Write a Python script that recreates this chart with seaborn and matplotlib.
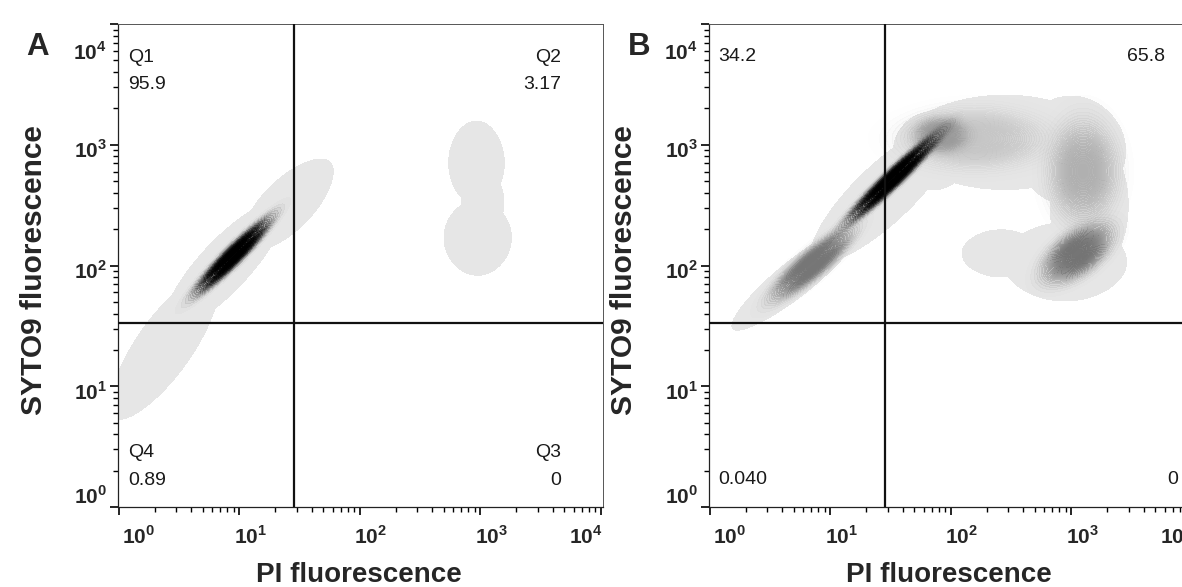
import numpy as np
import matplotlib
matplotlib.use("Agg")
import matplotlib.pyplot as plt
import seaborn as sns
from matplotlib.colors import LinearSegmentedColormap, ListedColormap, to_rgb
from matplotlib.ticker import LogLocator, FuncFormatter, NullFormatter
from matplotlib.transforms import ScaledTranslation

# ---------------- data: anchor points in log10 fluorescence ----
# Panel A - light population outline
A_low_pi    = [0.474, 0.286, 0.338, 0.422]
A_low_syto  = [1.463, 1.197, 1.360, 1.300]
A_mid_pi    = [0.99, 0.77, 0.847, 0.913]
A_mid_syto  = [2.117, 1.883, 2.033, 1.967]
A_up_pi     = [1.48, 1.32, 1.367, 1.433]
A_up_syto   = [2.58, 2.42, 2.533, 2.467]
A_dtop_pi   = [2.97, 2.97, 2.918, 3.022]
A_dtop_syto = [2.928, 2.772, 2.85, 2.85]
A_dneck_pi  = [3.02, 3.02, 2.98, 3.06]
A_dneck_syto= [2.583, 2.457, 2.52, 2.52]
A_dbot_pi   = [2.98, 2.98, 2.917, 3.043]
A_dbot_syto = [2.30, 2.16, 2.23, 2.23]
# Panel A - dense core
A_core_pi   = [1.063, 0.837, 0.932, 0.968]
A_core_syto = [2.193, 1.967, 2.098, 2.062]

# Panel B - light population outline (stem, then the horseshoe)
B_tail_pi   = [0.839, 0.601, 0.70, 0.74]
B_tail_syto = [1.995, 1.805, 1.926, 1.874]
B_stem_pi   = [1.583, 1.317, 1.413, 1.487]
B_stem_syto = [2.726, 2.474, 2.639, 2.561]
B_bend_pi   = [1.923, 1.777, 1.85, 1.85]
B_bend_syto = [2.95, 2.95, 3.023, 2.877]
B_arc_pi    = [2.64, 2.26, 2.45, 2.45]
B_arc_syto  = [3.02, 3.02, 3.108, 2.932]
B_corner_pi   = [3.102, 2.898, 3.0, 3.0]
B_corner_syto = [2.95, 2.95, 3.052, 2.848]
B_side_pi   = [3.15, 3.15, 3.077, 3.223]
B_side_syto = [2.634, 2.366, 2.50, 2.50]
B_lobe_pi   = [3.065, 2.835, 2.95, 2.95]
B_lobe_syto = [2.03, 2.03, 2.103, 1.957]
B_arm_pi    = [2.493, 2.347, 2.42, 2.42]
B_arm_syto  = [2.10, 2.10, 2.144, 2.056]
# Panel B - denser regions
B_top_pi    = [2.41, 1.99, 2.20, 2.20]
B_top_syto  = [3.05, 3.05, 3.135, 2.965]
B_right_pi  = [3.10, 3.10, 3.00, 3.20]
B_right_syto= [2.93, 2.63, 2.78, 2.78]
B_dead_pi   = [3.146, 2.954, 3.014, 3.086]
B_dead_syto = [2.172, 2.028, 2.148, 2.052]
B_neck_pi   = [2.00, 1.84, 1.92, 1.92]
B_neck_syto = [3.08, 3.08, 3.13, 3.03]
B_live_pi   = [0.969, 0.731, 0.825, 0.875]
B_live_syto = [2.112, 1.908, 2.039, 1.981]
B_peak_pi   = [1.657, 1.383, 1.503, 1.537]
B_peak_syto = [2.851, 2.589, 2.738, 2.702]

# gates and quadrant statistics
GATE_PI = 28.4
GATE_SYTO = 33.5
A_quads = ["Q1", "Q2", "Q3", "Q4"]
A_freq = ["95.9", "3.17", "0", "0.89"]
B_freq = ["34.2", "65.8", "0", "0.040"]
panel_letters = ["A", "B"]

# ---------------- style ----------------
sns.set_style("ticks")
plt.rcParams["font.family"] = ["Liberation Sans", "DejaVu Sans"]
plt.rcParams["mathtext.fontset"] = "custom"
plt.rcParams["mathtext.rm"] = "Liberation Sans"
plt.rcParams["mathtext.bf"] = "Liberation Sans:bold"

PLATEAU = "#e6e6e6"
BW = 2.2

fig = plt.figure(figsize=(11.82, 5.87), dpi=100)
W, H = 1182, 587
axA = fig.add_axes([118 / W, 1 - 507 / H, 485 / W, 483 / H])
axB = fig.add_axes([709 / W, 1 - 507 / H, 485 / W, 483 / H])


def kde(ax, pi, syto, cmap, levels, thresh=0.05):
    sns.kdeplot(x=np.power(10.0, np.asarray(pi, float)),
                y=np.power(10.0, np.asarray(syto, float)),
                fill=True, levels=levels, thresh=thresh, cmap=cmap, bw_adjust=BW,
                log_scale=True, cut=4, gridsize=220, antialiased=False, ax=ax)


def outline(ax, pi, syto):
    kde(ax, pi, syto, ListedColormap([PLATEAU]), [0.02, 1.0])


def shade(ax, pi, syto, end, thresh=0.03):
    r, g, b = to_rgb(end)
    cmap = LinearSegmentedColormap.from_list("c", [(r, g, b, 0.0), (r, g, b, 1.0)])
    kde(ax, pi, syto, cmap, 32, thresh)


# Panel A
for pi, sy in [(A_low_pi, A_low_syto), (A_mid_pi, A_mid_syto), (A_up_pi, A_up_syto),
               (A_dtop_pi, A_dtop_syto), (A_dneck_pi, A_dneck_syto),
               (A_dbot_pi, A_dbot_syto)]:
    outline(axA, pi, sy)
shade(axA, A_core_pi, A_core_syto, "#000000")

# Panel B
for pi, sy in [(B_tail_pi, B_tail_syto), (B_stem_pi, B_stem_syto), (B_bend_pi, B_bend_syto),
               (B_arc_pi, B_arc_syto), (B_corner_pi, B_corner_syto),
               (B_side_pi, B_side_syto), (B_lobe_pi, B_lobe_syto), (B_arm_pi, B_arm_syto)]:
    outline(axB, pi, sy)
shade(axB, B_top_pi, B_top_syto, "#c6c6c6")
shade(axB, B_right_pi, B_right_syto, "#b0b0b0")
shade(axB, B_dead_pi, B_dead_syto, "#747474")
shade(axB, B_neck_pi, B_neck_syto, "#9a9a9a")
shade(axB, B_live_pi, B_live_syto, "#767676")
shade(axB, B_peak_pi, B_peak_syto, "#000000")


def expfmt(v, pos):
    e = int(round(np.log10(v)))
    return r"$\mathbf{10}^{\mathbf{%d}}$" % e


for ax in (axA, axB):
    ax.set_xscale("log")
    ax.set_yscale("log")
    ax.set_xlim(10 ** -0.005, 10 ** 4.02)
    ax.set_ylim(1, 10 ** 4.0)
    ax.axvline(GATE_PI, color="#111111", lw=1.6, zorder=5)
    ax.axhline(GATE_SYTO, color="#111111", lw=1.6, zorder=5)
    for axis in (ax.xaxis, ax.yaxis):
        axis.set_major_locator(LogLocator(base=10, numticks=20))
        axis.set_minor_locator(LogLocator(base=10, subs=np.arange(2, 10), numticks=20))
        axis.set_major_formatter(FuncFormatter(expfmt))
        axis.set_minor_formatter(NullFormatter())
    ax.tick_params(which="major", direction="out", length=6, width=1.2, color="black",
                   labelsize=15, top=False, right=False)
    ax.tick_params(axis="x", which="major", pad=7)
    ax.tick_params(axis="y", which="major", pad=2)
    ax.tick_params(which="minor", direction="out", length=3.5, width=1.0, color="black",
                   top=False, right=False)
    for name, s in ax.spines.items():
        s.set_visible(True)
        s.set_linewidth(0.9 if name in ("left", "bottom") else 0.7)
        s.set_color("#222222" if name in ("left", "bottom") else "#555555")
    ax.set_xlabel("PI fluorescence", fontsize=20, fontweight="bold")
    ax.set_ylabel("SYTO9 fluorescence", fontsize=21.5, fontweight="bold")
    ax.xaxis.label.set_va("baseline")
    ax.yaxis.label.set_va("baseline")

axA.xaxis.set_label_coords(0.497, -0.155)
axB.xaxis.set_label_coords(0.495, -0.155)
axA.yaxis.set_label_coords(-0.157, 0.49)
axB.yaxis.set_label_coords(-0.159, 0.49)

# quadrant annotations
for ax, rows in [
    (axA, [(0.021, 0.921, A_quads[0], "left"), (0.021, 0.865, A_freq[0], "left"),
           (0.913, 0.921, A_quads[1], "right"), (0.913, 0.865, A_freq[1], "right"),
           (0.913, 0.1035, A_quads[2], "right"), (0.913, 0.0455, A_freq[2], "right"),
           (0.021, 0.1035, A_quads[3], "left"), (0.021, 0.0455, A_freq[3], "left")]),
    (axB, [(0.0186, 0.923, B_freq[0], "left"), (0.940, 0.923, B_freq[1], "right"),
           (0.967, 0.0476, B_freq[2], "right"), (0.0186, 0.0476, B_freq[3], "left")]),
]:
    for x, y, s, ha in rows:
        ax.text(x, y, s, ha=ha, va="baseline", fontsize=14, color="#1a1a1a",
                transform=ax.transAxes, zorder=6)

fig.text(26 / W, 1 - 55 / H, panel_letters[0], fontsize=22.5, fontweight="bold", va="baseline")
fig.text(628 / W, 1 - 55 / H, panel_letters[1], fontsize=22.5, fontweight="bold", va="baseline")

# tick label placement like the cytometry software (labels nudged inside the frame)
for ax in (axA, axB):
    locs = ax.xaxis.get_majorticklocs()
    for loc, t in zip(locs, ax.xaxis.get_major_ticks(len(locs))):
        e = int(round(np.log10(loc)))
        dx = {0: 20, 4: -15}.get(e, 11)
        t.label1.set_transform(t.label1.get_transform()
                               + ScaledTranslation(dx / 100, 0, fig.dpi_scale_trans))
    locs = ax.yaxis.get_majorticklocs()
    for loc, t in zip(locs, ax.yaxis.get_major_ticks(len(locs))):
        e = int(round(np.log10(loc)))
        dy = {0: 12, 4: -27}.get(e, -4)
        t.label1.set_transform(t.label1.get_transform()
                               + ScaledTranslation(0, dy / 100, fig.dpi_scale_trans))

fig.savefig("out.png", dpi=100)
